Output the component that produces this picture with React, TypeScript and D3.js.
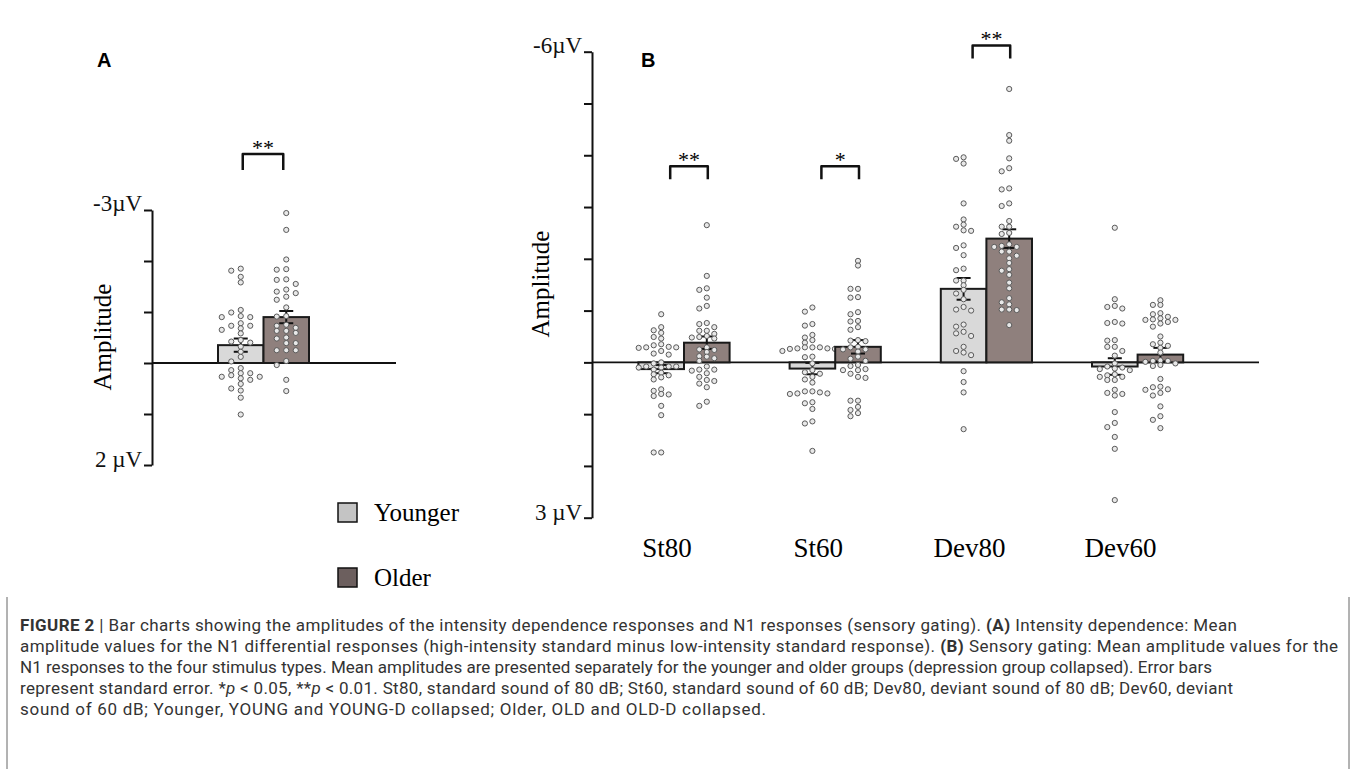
import * as d3 from "d3";
import React, {useEffect, useRef} from "react";

// groups and stimulus types
const groups = ['Younger', 'Older'];
const stimuli = ['St80', 'St60', 'Dev80', 'Dev60'];

// panel A: intensity dependence, mean +- SE (µV, negative = up)
const aMeans = [-0.35, -0.90];
const aErrors = [0.13, 0.12];
const aSig = '**';
const aSigLevel = -4.1;

const aYounger = [-1.81, -1.85, -1.69, -1.58, -1.04, -0.90, -0.78, -0.68, -0.58, -0.45, -0.99, -0.90, -0.73, -0.65, -0.40,
  -0.92, -0.73, -0.42, -0.32, -0.22, -0.12, -0.03, 0.20, 0.24, 0.33, 0.41, 0.10, 0.20, 0.30, 0.50, 0.68, 1.01, 0.14, 0.27, 0.27, 0.54];
const aOlder = [-2.94, -2.61, -2.03, -1.84, -1.83, -1.64, -1.63, -1.55, -1.40, -1.44, -1.37, -1.30, -1.24, -1.09, -0.92, -0.91,
  -0.75, -0.63, -0.73, -0.69, -0.63, -0.59, -0.50, -0.48, -0.39, -0.39, -0.25, -0.25, -0.25, -0.04, 0.04, 0.33, 0.55];

// panel B: sensory gating
const bYoungerMeans = [0.13, 0.12, -1.42, 0.08];
const bYoungerErrors = [0.08, 0.11, 0.21, 0.16];
const bOlderMeans = [-0.38, -0.30, -2.39, -0.15];
const bOlderErrors = [0.12, 0.13, 0.18, 0.13];
const bSig = ['**', '*', '**', ''];
const bSigLevels = [-3.79, -3.79, -6.12, NaN];

const st80Younger = [-0.93, -0.68, -0.62, -0.57, -0.46, -0.49, -0.28, -0.30, -0.35, -0.29, -0.22, -0.15, -0.29, -0.17, -0.33,
  0.02, 0.00, 0.08, 0.08, 0.08, 0.10, 0.10, 0.14, 0.25, 0.20, 0.29, 0.23, 0.33, 0.62, 0.55, 0.65, 0.52, 0.61, 0.84, 1.02, 1.74, 1.74];
const st80Older = [-2.65, -1.67, -1.43, -1.40, -1.25, -1.04, -1.09, -0.74, -0.76, -0.68, -0.61, -0.61, -0.51, -0.55, -0.48,
  -0.49, -0.46, -0.20, -0.12, -0.25, -0.24, -0.29, -0.11, -0.03, -0.08, 0.16, 0.14, 0.21, 0.28, 0.14, 0.08, 0.34, 0.36, 0.41, 0.48, 0.76, 0.84];
const st60Younger = [-1.06, -0.98, -0.74, -0.71, -0.53, -0.48, -0.43, -0.38, -0.26, -0.29, -0.29, -0.22, -0.26, -0.29, -0.27,
  -0.27, -0.11, -0.10, 0.02, 0.19, 0.15, 0.22, 0.28, 0.33, 0.39, 0.60, 0.56, 0.56, 0.61, 0.58, 0.60, 0.79, 0.90, 0.77, 1.18, 1.14, 1.71];
const st60Older = [-1.96, -1.87, -1.42, -1.42, -1.26, -1.25, -0.97, -0.93, -0.80, -0.79, -0.68, -0.63, -0.42, -0.43, -0.41,
  -0.30, -0.25, -0.29, -0.25, -0.21, -0.11, -0.07, -0.03, 0.05, 0.07, 0.15, 0.15, 0.22, 0.28, 0.13, 0.30, 0.74, 0.74, 0.86, 0.92, 0.98, 1.04];
const dev80Younger = [-3.96, -3.93, -3.84, -3.07, -2.76, -2.62, -2.55, -2.66, -2.54, -2.26, -2.21, -2.07, -1.81, -1.78, -1.58,
  -1.58, -1.49, -1.40, -1.33, -1.22, -1.07, -1.00, -1.02, -0.73, -0.69, -0.59, -0.51, -0.56, -0.30, -0.22, -0.14, -0.19, 0.17, 0.38, 0.58, 1.29];
const dev80Older = [-5.28, -4.39, -4.28, -3.94, -3.75, -3.69, -3.36, -3.34, -3.07, -3.02, -2.73, -2.62, -2.48, -2.50, -2.62,
  -2.23, -2.28, -2.23, -2.14, -2.25, -2.14, -2.06, -2.01, -1.92, -1.80, -1.77, -1.69, -1.54, -1.43, -1.24, -1.16, -1.02, -1.02, -1.12, -1.01, -0.72];
const dev60Younger = [-2.60, -1.22, -1.09, -1.07, -1.04, -0.76, -0.78, -0.75, -0.42, -0.43, -0.30, -0.30, -0.22, -0.13,
  0.10, 0.08, 0.12, 0.02, 0.15, 0.13, 0.23, 0.28, 0.25, 0.28, 0.34, 0.34, 0.53, 0.61, 0.59, 0.64, 0.96, 1.17, 1.25, 1.44, 1.67, 2.66];
const dev60Older = [-1.20, -1.11, -1.11, -0.85, -0.95, -0.88, -0.82, -0.75, -0.69, -0.83, -0.78, -0.93, -0.82, -0.50, -0.32,
  -0.38, -0.35, -0.28, -0.19, -0.03, -0.03, 0.02, -0.04, -0.01, 0.05, 0.07, 0.32, 0.47, 0.53, 0.59, 0.64, 0.52, 0.48, 0.85, 1.04, 1.11, 1.27];

const bYoungerDots = [st80Younger, st60Younger, dev80Younger, dev60Younger];
const bOlderDots = [st80Older, st60Older, dev80Older, dev60Older];

// axis labels
const aTicks = [-3, -2, -1, 0, 1, 2];
const aTickLabels = ['-3µV', '2 µV'];
const bTicks = [-6, -5, -4, -3, -2, -1, 0, 1, 2, 3];
const bTickLabels = ['-6µV', '3 µV'];

// caption, segments of [text, style]
const captionLines: [string, string][][] = [
  [['FIGURE 2', 'b'], [' | Bar charts showing the amplitudes of the intensity dependence responses and N1 responses (sensory gating). ', ''], ['(A)', 'b'], [' Intensity dependence: Mean', '']],
  [['amplitude values for the N1 differential responses (high-intensity standard minus low-intensity standard response). ', ''], ['(B)', 'b'], [' Sensory gating: Mean amplitude values for the', '']],
  [['N1 responses to the four stimulus types. Mean amplitudes are presented separately for the younger and older groups (depression group collapsed). Error bars', '']],
  [['represent standard error. *', ''], ['p', 'i'], [' < 0.05, **', ''], ['p', 'i'], [' < 0.01. St80, standard sound of 80 dB; St60, standard sound of 60 dB; Dev80, deviant sound of 80 dB; Dev60, deviant', '']],
  [['sound of 60 dB; Younger, YOUNG and YOUNG-D collapsed; Older, OLD and OLD-D collapsed.', '']],
];
const captionEnds = [1237, 1338, 1212, 1233, 766];

const barFill: Record<string, string> = {Younger: '#d9d9d9', Older: '#8f807d'};
const legendFill: Record<string, string> = {Younger: '#c4c4c4', Older: '#6c5f5e'};
const serif = '"Liberation Serif", "Times New Roman", serif';

// spread points sideways when they would overlap
function dodge(values: number[], y: (v: number) => number, step: number, gap: number) {
  const placed: {off: number, py: number}[] = [];
  [...values].sort((a, b) => a - b).forEach((v) => {
    const py = y(v);
    for (let k = 0; k < 14; k++) {
      const off = k === 0 ? 0 : (k % 2 ? -1 : 1) * Math.ceil(k / 2) * step;
      if (!placed.some((p) => p.off === off && Math.abs(p.py - py) < gap)) {
        placed.push({off, py});
        break;
      }
    }
  });
  return placed;
}

const App: React.FC = () => {
  const ref = useRef<SVGSVGElement | null>(null);

  useEffect(() => {
    document.body.style.margin = '0';
    const svg = d3.select(ref.current);
    svg.selectAll('*').remove();

    const yA = d3.scaleLinear().domain([-3, 2]).range([210, 465]);
    const yB = d3.scaleLinear().domain([-6, 3]).range([51.7, 517.7]);
    const xA = d3.scaleBand().domain(groups).range([218, 309]);
    const xB = d3.scaleBand().domain(stimuli).range([608.4, 1213.2]);
    const xBi = d3.scaleBand().domain(groups).range([0, 91.2]);
    const innerOff = (xB.bandwidth() - 91.2) / 2;

    const drawAxis = (x: number, y: d3.ScaleLinear<number, number>, ticks: number[], labels: string[], zeroEnd: number) => {
      const g = svg.append('g').attr('transform', `translate(${x},0)`);
      g.call(d3.axisLeft(y).tickValues(ticks).tickSize(8).tickSizeOuter(0).tickFormat(() => ''));
      g.selectAll('path, line').attr('stroke', '#111').attr('stroke-width', 2);
      const [d0, d1] = y.domain();
      [[d0, 1, labels[0]], [d1, 2, labels[1]]].forEach(([v, dy, label]) => {
        svg.append('text').attr('x', x - 10).attr('y', y(v as number) + (dy as number)).attr('text-anchor', 'end')
          .attr('fill', '#111').style('font-family', serif).style('font-size', '23px').text(label as string);
      });
      svg.append('line').attr('x1', x).attr('x2', zeroEnd).attr('y1', y(0)).attr('y2', y(0))
        .attr('stroke', '#111').attr('stroke-width', 1.8);
    };

    const drawBar = (cx: number, w: number, y: d3.ScaleLinear<number, number>, mean: number, se: number, fill: string, dots: number[], step: number) => {
      svg.append('rect').attr('x', cx - w / 2).attr('width', w)
        .attr('y', Math.min(y(0), y(mean))).attr('height', Math.abs(y(mean) - y(0)))
        .attr('fill', fill).attr('stroke', '#1a1a1a').attr('stroke-width', 2);
      const eb = svg.append('g').attr('stroke', '#111').attr('stroke-width', 2);
      eb.append('line').attr('x1', cx).attr('x2', cx).attr('y1', y(mean - se)).attr('y2', y(mean + se));
      [mean - se, mean + se].forEach((v) => {
        eb.append('line').attr('x1', cx - 7).attr('x2', cx + 7).attr('y1', y(v)).attr('y2', y(v));
      });
      svg.append('g').selectAll('circle').data(dodge(dots, y, step, 4.6)).enter().append('circle')
        .attr('cx', (d) => cx + d.off).attr('cy', (d) => d.py).attr('r', 2.6)
        .attr('fill', '#e8e8e8').attr('stroke', '#5a5a5a').attr('stroke-width', 1);
    };

    const drawBracket = (x1: number, x2: number, yTop: number, leg: number, label: string) => {
      svg.append('path').attr('d', `M${x1},${yTop + leg}L${x1},${yTop}L${x2},${yTop}L${x2},${yTop + leg}`)
        .attr('fill', 'none').attr('stroke', '#111').attr('stroke-width', 2.5).attr('stroke-linejoin', 'round');
      svg.append('text').attr('x', (x1 + x2) / 2).attr('y', yTop + 1).attr('text-anchor', 'middle')
        .style('font-family', serif).style('font-size', '22px').text(label);
    };

    // panel A
    drawAxis(152, yA, aTicks, aTickLabels, 396);
    const aDots = [aYounger, aOlder];
    groups.forEach((g, i) => {
      drawBar(xA(g)! + xA.bandwidth() / 2, xA.bandwidth(), yA, aMeans[i], aErrors[i], barFill[g], aDots[i], 9.5);
    });
    drawBracket(xA('Younger')! + xA.bandwidth() / 2 + 2, xA('Older')! + xA.bandwidth() / 2 - 3, yA(aSigLevel), 16, aSig);

    // panel B
    drawAxis(592, yB, bTicks, bTickLabels, 1259);
    stimuli.forEach((s, j) => {
      const left = xB(s)! + innerOff;
      const yc = left + xBi('Younger')! + xBi.bandwidth() / 2;
      const oc = left + xBi('Older')! + xBi.bandwidth() / 2;
      drawBar(yc, xBi.bandwidth(), yB, bYoungerMeans[j], bYoungerErrors[j], barFill.Younger, bYoungerDots[j], 7.5);
      drawBar(oc, xBi.bandwidth(), yB, bOlderMeans[j], bOlderErrors[j], barFill.Older, bOlderDots[j], 7.5);
      if (bSig[j]) drawBracket(yc + 9, oc + 1, yB(bSigLevels[j]), 13, bSig[j]);
      svg.append('text').attr('x', xB(s)! + xB.bandwidth() / 2 - 17).attr('y', 557).attr('text-anchor', 'middle')
        .style('font-family', serif).style('font-size', '27px').text(s);
    });

    // y titles
    [[111, 337], [549, 284]].forEach(([x, y]) => {
      svg.append('text').attr('transform', `translate(${x},${y}) rotate(-90)`).attr('text-anchor', 'middle')
        .style('font-family', serif).style('font-size', '25px').text('Amplitude');
    });

    // panel letters
    [['A', 97], ['B', 641]].forEach(([t, x]) => {
      svg.append('text').attr('x', x).attr('y', 67).style('font-family', '"Liberation Sans", Arial, sans-serif')
        .style('font-size', '20px').style('font-weight', 'bold').text(t as string);
    });

    // legend
    groups.forEach((g, i) => {
      const ly = 503 + i * 65;
      svg.append('rect').attr('x', 338).attr('y', ly).attr('width', 19).attr('height', 19)
        .attr('fill', legendFill[g]).attr('stroke', '#111').attr('stroke-width', 1.5);
      svg.append('text').attr('x', 374).attr('y', ly + 18).style('font-family', serif).style('font-size', '25px').text(g);
    });

    // caption box and text
    [7, 1349].forEach((x) => {
      svg.append('line').attr('x1', x).attr('x2', x).attr('y1', 597).attr('y2', 769)
        .attr('stroke', '#666').attr('stroke-width', 1);
    });
    captionLines.forEach((line, i) => {
      const t = svg.append('text').attr('x', 20).attr('y', 631 + i * 21)
        .attr('textLength', captionEnds[i] - 20).attr('lengthAdjust', 'spacing')
        .style('font-family', 'Roboto, "Noto Sans", sans-serif').style('font-size', '17px').attr('fill', '#333');
      line.forEach(([txt, st]) => {
        t.append('tspan').text(txt)
          .style('font-weight', st === 'b' ? 'bold' : 'normal')
          .style('font-style', st === 'i' ? 'italic' : 'normal');
      });
    });

    return () => {
      svg.selectAll('*').remove();
    };
  }, []);

  return <svg ref={ref} width={1356} height={769} style={{display: 'block', background: '#fff'}}/>;
};

export default App;
